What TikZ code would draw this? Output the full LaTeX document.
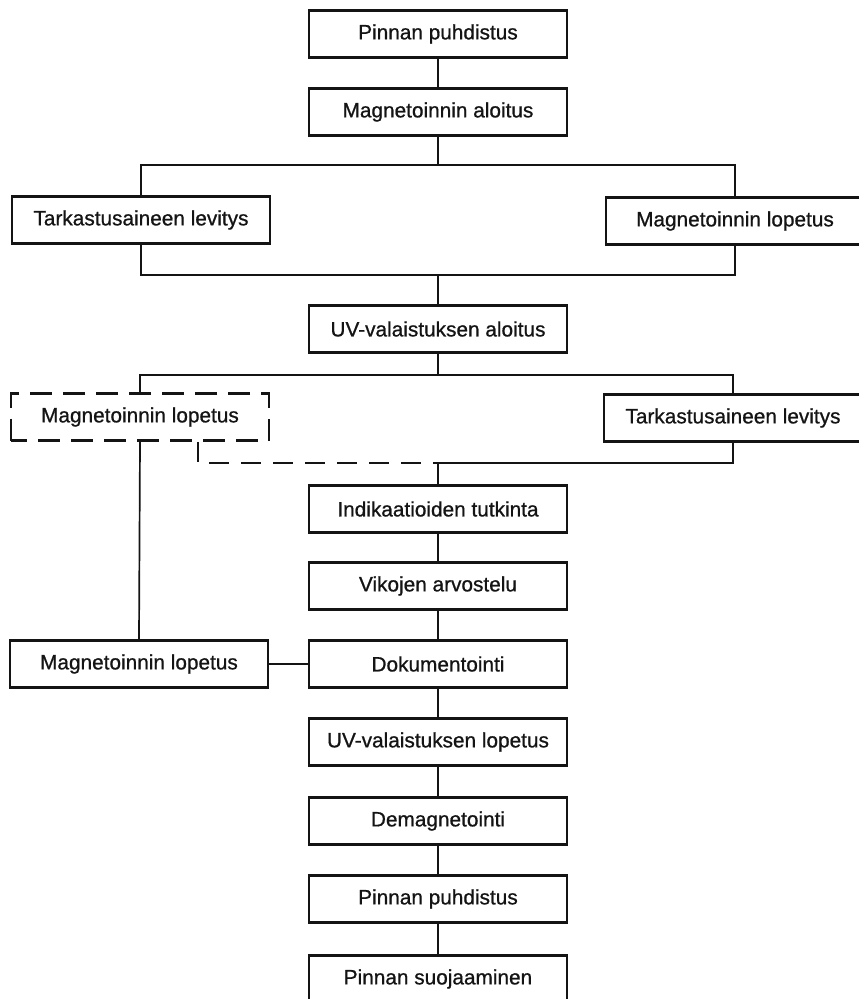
\documentclass[tikz,border=0pt]{standalone}
\usepackage{fontspec}
\setmainfont{Liberation Sans}[FakeBold=0.8]
\definecolor{ink}{HTML}{141414}
\tikzset{
  basebox/.style={draw=ink,line width=1.25pt,fill=white,align=center,inner sep=2pt,
    minimum width=129pt,minimum height=23.5pt,font=\fontsize{10.4}{12}\selectfont,text=ink},
  dashbox/.style={basebox,dash pattern=on 11pt off 5.5pt,dash phase=3pt},
  link/.style={line width=0.85pt,draw=ink},
  dashlink/.style={link,line width=1.1pt,dash pattern=on 10pt off 6pt}
}

\begin{document}
\begin{tikzpicture}[x=0.5pt,y=-0.5pt]
    \useasboundingbox (0,0) rectangle (858,999);

    \node[basebox] (puh1) at (438,34) {Pinnan puhdistus};
    \node[basebox] (magalku) at (438,112) {Magnetoinnin aloitus};
    \node[basebox] (tark1) at (141,220) {Tarkastusaineen levitys};
    \node[basebox] (maglop1) at (735,221) {Magnetoinnin lopetus};
    \node[basebox] (uvalku) at (438,329) {UV-valaistuksen aloitus};
    \node[dashbox] (maglop2) at (140,417) {Magnetoinnin lopetus};
    \node[basebox] (tark2) at (733,418) {Tarkastusaineen levitys};
    \node[basebox] (indik) at (438,509) {Indikaatioiden tutkinta};
    \node[basebox] (vikat) at (438,586) {Vikojen arvostelu};
    \node[basebox] (doku) at (438,664) {Dokumentointi};
    \node[basebox] (maglop3) at (139,664) {Magnetoinnin lopetus};
    \node[basebox] (uvlop) at (438,742) {UV-valaistuksen lopetus};
    \node[basebox] (demag) at (438,821) {Demagnetointi};
    \node[basebox] (puh2) at (438,899) {Pinnan puhdistus};
    \node[basebox] (suoja) at (438,979) {Pinnan suojaaminen};

    % haarat ja yhdistykset
    \coordinate (br1) at (438,165);
    \coordinate (mg1) at (438,275);
    \coordinate (br2) at (438,375);
    \coordinate (mg2) at (438,463);

    \draw[link] (puh1) -- (magalku);
    \draw[link] (magalku) -- (br1);
    \draw[link] (tark1.north) |- (br1) -| (maglop1.north);
    \draw[link] (tark1.south) |- (mg1) -| (maglop1.south);
    \draw[link] (mg1) -- (uvalku);
    \draw[link] (uvalku) -- (br2);
    \draw[link] (maglop2.north) |- (br2) -| (tark2.north);
    \draw[dashlink] ([xshift=29pt]maglop2.south) |- (mg2);
    \draw[link] (mg2) -| (tark2.south);
    \draw[link] (mg2) -- (indik);
    \draw[link] (maglop2.south) -- (maglop3.north);
    \draw[link] (maglop3) -- (doku);
    \draw[link] (indik) -- (vikat);
    \draw[link] (vikat) -- (doku);
    \draw[link] (doku) -- (uvlop);
    \draw[link] (uvlop) -- (demag);
    \draw[link] (demag) -- (puh2);
    \draw[link] (puh2) -- (suoja);
  \end{tikzpicture}
\end{document}
